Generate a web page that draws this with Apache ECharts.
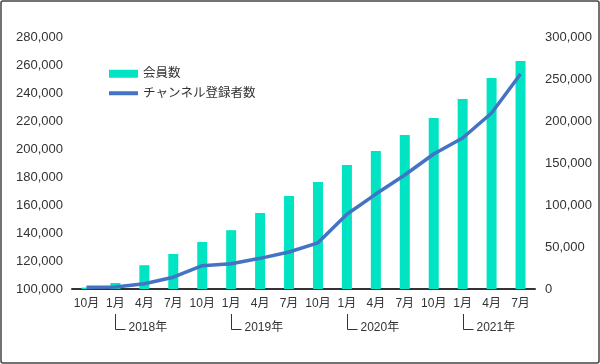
<!DOCTYPE html>
<html>
<head>
<meta charset="utf-8">
<script src="https://cdn.jsdelivr.net/npm/echarts@6/dist/echarts.min.js"></script>
<style>
html,body{margin:0;padding:0;background:#fff;}
#c{width:600px;height:364px;}
</style>
</head>
<body>
<div id="c"></div>
<script>
var categories = ['10月','1月','4月','7月','10月','1月','4月','7月','10月','1月','4月','7月','10月','1月','4月','7月'];
var members = [101000,104300,117000,125000,133600,142000,154300,166400,176400,188600,198600,210000,222100,235700,250700,262900];
var subscribers = [2000,2500,6300,14000,27800,30000,36500,44000,55000,89000,113000,135700,160700,179800,209500,256000];
var yearLabels = ['2018年','2019年','2020年','2021年'];
var yearIndices = [1,5,9,13];

var FONT = '"Liberation Sans", Arial, "Noto Sans CJK JP", sans-serif';
var chart = echarts.init(document.getElementById('c'));
var option = {
  animation: false,
  backgroundColor: '#fff',
  grid: {left: 72, right: 65, top: 37, bottom: 75},
  legend: [
    {
      data: ['会員数'], left: 109, top: 67.5, padding: 0, orient: 'vertical',
      icon: 'rect', itemWidth: 29, itemHeight: 8, itemGap: 6,
      textStyle: {fontSize: 12.5, color: '#333', fontFamily: FONT}
    },
    {
      data: ['チャンネル登録者数'], left: 109, top: 87, padding: 0, orient: 'vertical',
      icon: 'rect', itemWidth: 29, itemHeight: 4, itemGap: 6,
      textStyle: {fontSize: 12.5, color: '#333', fontFamily: FONT}
    }
  ],
  xAxis: {
    type: 'category', data: categories,
    axisLine: {lineStyle: {color: '#333', width: 2}},
    axisTick: {show: false},
    axisLabel: {color: '#333', fontSize: 12, margin: 9, fontFamily: FONT, interval: 0}
  },
  yAxis: [
    {
      type: 'value', min: 100000, max: 280000, interval: 20000,
      axisLine: {show: false}, axisTick: {show: false}, splitLine: {show: false},
      axisLabel: {color: '#333', fontSize: 13, margin: 9, fontFamily: FONT,
        formatter: function(v){ return v.toLocaleString('en-US'); }}
    },
    {
      type: 'value', min: 0, max: 300000, interval: 50000, position: 'right',
      axisLine: {show: false}, axisTick: {show: false}, splitLine: {show: false},
      axisLabel: {color: '#333', fontSize: 13, margin: 10, fontFamily: FONT,
        formatter: function(v){ return v.toLocaleString('en-US'); }}
    }
  ],
  series: [
    {
      name: '会員数', type: 'bar', data: members, yAxisIndex: 0,
      barWidth: 10, itemStyle: {color: '#00E4C4'}
    },
    {
      name: 'チャンネル登録者数', type: 'line', data: subscribers, yAxisIndex: 1,
      showSymbol: false, symbol: 'none', color: '#4472C4',
      lineStyle: {color: '#4472C4', width: 3.5}, itemStyle: {color: '#4472C4'}
    }
  ]
};
chart.setOption(option);

var elements = [{
  type: 'rect', shape: {x: 1, y: 1, width: 598, height: 362, r: 2},
  style: {fill: null, stroke: '#444', lineWidth: 1.5}, silent: true, z: 100
}];
for (var i = 0; i < yearIndices.length; i++) {
  var cx = Math.round(chart.convertToPixel({xAxisIndex: 0}, yearIndices[i])) + 0.5;
  elements.push({
    type: 'polyline',
    shape: {points: [[cx, 314], [cx, 329.5], [cx + 10, 329.5]]},
    style: {stroke: '#333', lineWidth: 1, fill: null}, silent: true
  });
  elements.push({
    type: 'text', x: cx + 13, y: 328,
    style: {text: yearLabels[i], fill: '#333', fontSize: 12, fontFamily: FONT,
      textAlign: 'left', textVerticalAlign: 'middle'}, silent: true
  });
}
chart.setOption({graphic: elements});
</script>
</body>
</html>
